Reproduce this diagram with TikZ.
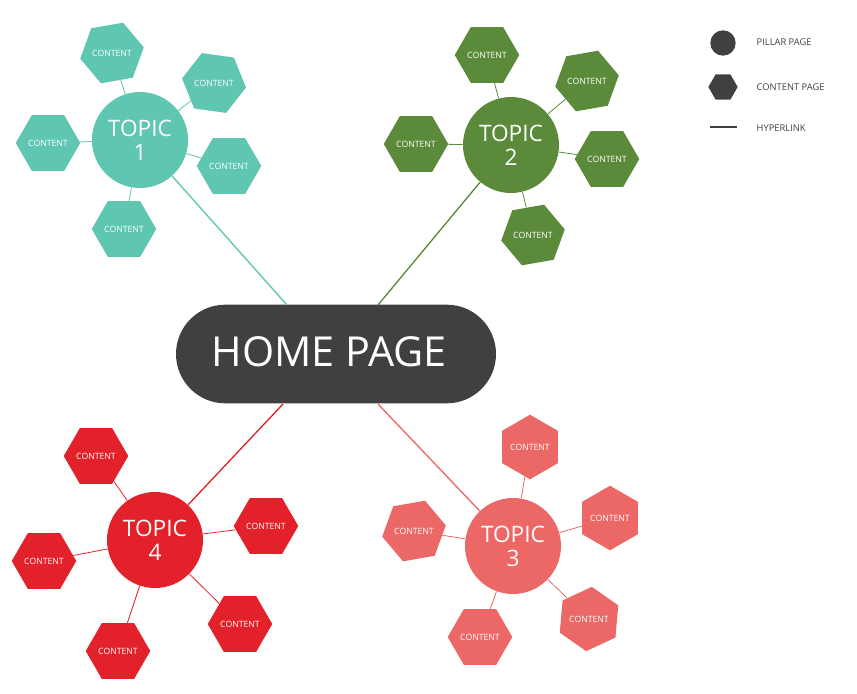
\documentclass[tikz,border=0pt]{standalone}
\usepackage{fontspec}
\setmainfont{Open Sans}
\usetikzlibrary{shapes.geometric,backgrounds}
\definecolor{cteal}{HTML}{5FC6B2}
\definecolor{cgreen}{HTML}{5B8A3A}
\definecolor{csalmon}{HTML}{EC6866}
\definecolor{cred}{HTML}{E3212B}
\definecolor{cdark}{HTML}{404040}
\tikzset{
  topic/.style={circle,fill=#1,text=white,minimum size=72pt,inner sep=0pt,align=center,font=\fontsize{17}{18}\selectfont},
  hex/.style={regular polygon,regular polygon sides=6,fill=#1,text=white,minimum size=46pt,inner sep=0pt,font=\fontsize{6.5}{7}\selectfont},
  lnk/.style={draw=#1,line width=1pt},
}
\begin{document}
\begin{tikzpicture}[x=0.75pt,y=-0.75pt]
\useasboundingbox (0,0) rectangle (857,693);
\node[fill=cdark,rounded corners=37pt,minimum width=240pt,minimum height=74pt] (home) at (336,354) {};
\node[text=white,font=\fontsize{31}{32}\selectfont] (hometxt) at (329,352) {HOME PAGE};
% topics
\node[topic=cteal] (t1) at (140,140) {TOPIC\\1};
\node[topic=cgreen] (t2) at (511,145) {TOPIC\\2};
\node[topic=csalmon] (t3) at (513,546) {TOPIC\\3};
\node[topic=cred] (t4) at (155,540) {TOPIC\\4};
% hexes topic1
\node[hex=cteal,shape border rotate=10] (a1) at (112,53) {CONTENT};
\node[hex=cteal,shape border rotate=-8] (a2) at (214,83) {CONTENT};
\node[hex=cteal] (a3) at (229,166) {CONTENT};
\node[hex=cteal] (a4) at (124,229) {CONTENT};
\node[hex=cteal] (a5) at (48,143) {CONTENT};
% topic2
\node[hex=cgreen] (b1) at (487,55) {CONTENT};
\node[hex=cgreen,shape border rotate=10] (b2) at (587,81) {CONTENT};
\node[hex=cgreen] (b3) at (607,159) {CONTENT};
\node[hex=cgreen,shape border rotate=10] (b4) at (533,235) {CONTENT};
\node[hex=cgreen] (b5) at (416,144) {CONTENT};
% topic3
\node[hex=csalmon,shape border rotate=30] (c1) at (530,447) {CONTENT};
\node[hex=csalmon,shape border rotate=30] (c2) at (610,518) {CONTENT};
\node[hex=csalmon,shape border rotate=25] (c3) at (589,619) {CONTENT};
\node[hex=csalmon] (c4) at (480,637) {CONTENT};
\node[hex=csalmon,shape border rotate=10] (c5) at (414,531) {CONTENT};
% topic4
\node[hex=cred] (d1) at (96,456) {CONTENT};
\node[hex=cred] (d2) at (266,526) {CONTENT};
\node[hex=cred] (d3) at (240,624) {CONTENT};
\node[hex=cred] (d4) at (118,651) {CONTENT};
\node[hex=cred] (d5) at (44,561) {CONTENT};
\begin{scope}[on background layer]
\foreach \h in {a1,a2,a3,a4,a5}{\draw[lnk=cteal,line width=0.6pt] (t1) -- (\h);}
\foreach \h in {b1,b2,b3,b4,b5}{\draw[lnk=cgreen,line width=0.6pt] (t2) -- (\h);}
\foreach \h in {c1,c2,c3,c4,c5}{\draw[lnk=csalmon,line width=0.6pt] (t3) -- (\h);}
\foreach \h in {d1,d2,d3,d4,d5}{\draw[lnk=cred,line width=0.6pt] (t4) -- (\h);}
\end{scope}
\coordinate (h1) at (287,305); \coordinate (h2) at (378,305);
\coordinate (h3) at (378,404); \coordinate (h4) at (283,404);
\draw[lnk=cteal] (t1) -- (h1);
\draw[lnk=cgreen] (t2) -- (h2);
\draw[lnk=csalmon] (t3) -- (h3);
\draw[lnk=cred] (t4) -- (h4);
% legend
\node[circle,fill=cdark,minimum size=19pt,inner sep=0pt] (lc) at (723,43) {};
\node[regular polygon,regular polygon sides=6,fill=cdark,minimum size=22pt,inner sep=0pt] (lh) at (723,87) {};
\coordinate (l1) at (710,127); \coordinate (l2) at (737,127);
\draw[cdark,line width=1pt] (l1) -- (l2);
\tikzset{leg/.style={anchor=west,text=cdark,font=\fontsize{7}{8}\selectfont}}
\node[leg] (n1) at (752,42) {PILLAR PAGE};
\node[leg] (n2) at (752,87) {CONTENT PAGE};
\node[leg] (n3) at (752,128) {HYPERLINK};
\end{tikzpicture}
\end{document}
